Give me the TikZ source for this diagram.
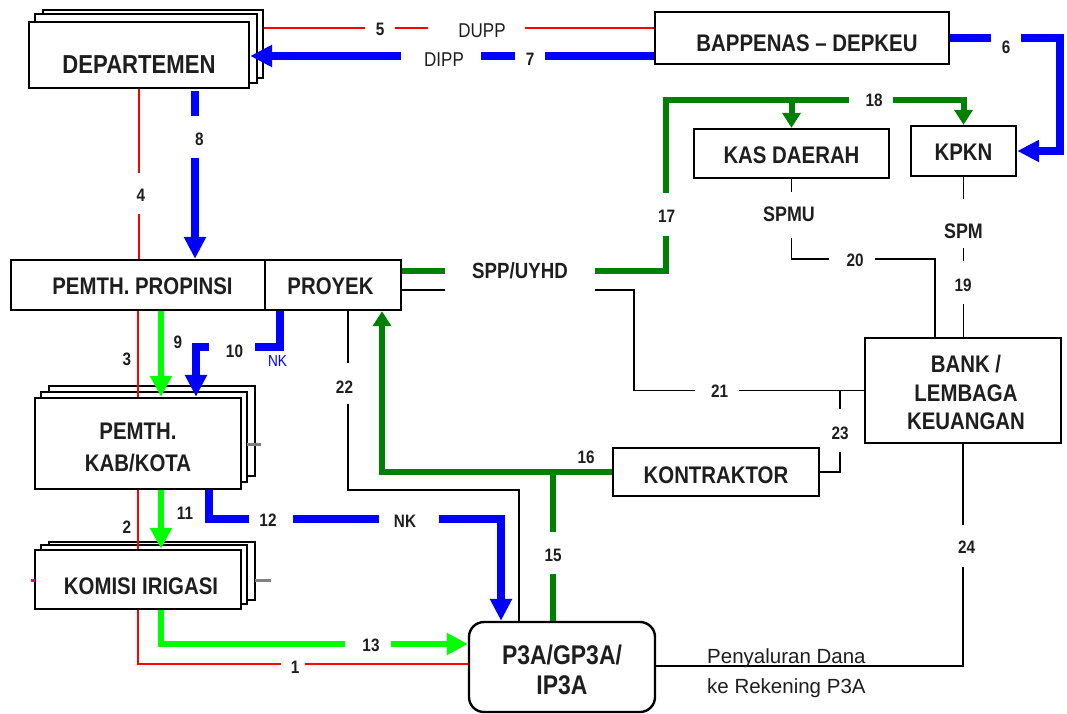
\documentclass[tikz,border=0pt]{standalone}
\usepackage{fontspec}
\setmainfont{Liberation Sans}[FakeStretch=0.85]
\newfontfamily\wide{Liberation Sans}
\usetikzlibrary{arrows.meta,calc}
\definecolor{lim}{RGB}{0,255,0}
\definecolor{dgr}{RGB}{0,128,0}
\definecolor{txtc}{RGB}{30,30,30}
\newcommand\twol[1]{\begin{tabular}{@{}c@{}}#1\end{tabular}}
\newcommand\dn[2]{\raisebox{0pt}[\dimexpr\height+#1pt+#1pt\relax][\depth]{#2}}
\newcommand\gp[4]{\fill[white] (#1,#2) rectangle (#3,#4);}
\begin{document}
\begin{tikzpicture}[x=1pt,y=-1pt,
  box/.style={draw, line width=2.4pt, fill=white, inner sep=0pt, text=txtc,
    font=\bfseries\fontsize{24}{32}\selectfont},
  back/.style={draw, line width=2.4pt, fill=white, inner sep=0pt},
  redl/.style={draw=red, line width=1.8pt},
  blkl/.style={draw=black, line width=1.8pt},
  bluel/.style={draw=blue, line width=7.5pt},
  liml/.style={draw=lim, line width=6pt},
  dgl/.style={draw=dgr, line width=6pt},
  btip/.style={-{Triangle[length=22pt,width=21pt]}},
  ltip/.style={-{Triangle[length=21pt,width=21pt]}},
  gtip/.style={-{Triangle[length=15pt,width=18pt]}},
  num/.style={inner sep=0pt, text=txtc, font=\bfseries\fontsize{18}{20}\selectfont},
  lbl/.style={inner sep=0pt, text=txtc, font=\bfseries\fontsize{22}{24}\selectfont},
  reg/.style={inner sep=0pt, text=txtc, font=\fontsize{20}{22}\selectfont},
]
\fill[white] (0,0) rectangle (1067,713);
\useasboundingbox (0,0) rectangle (1067,713);

% ---------- stacked back boxes ----------
\node[back, minimum width=220pt, minimum height=68pt] (depC) at (153,44) {};
\node[back, minimum width=222pt, minimum height=69pt] (depB) at (146,48.5) {};
\node[back, minimum width=206pt, minimum height=90pt] (kabC) at (152,431) {};
\node[back, minimum width=206pt, minimum height=90pt] (kabB) at (144,437) {};
\node[back, minimum width=206pt, minimum height=58pt] (komC) at (152,571) {};
\node[back, minimum width=206pt, minimum height=59pt] (komB) at (144,574.5) {};

% ---------- main boxes ----------
\node[box, minimum width=220pt, minimum height=66pt, font=\bfseries\fontsize{26}{30}\selectfont] (dep) at (139,55) {\dn{10}{DEPARTEMEN}};
\node[box, minimum width=294pt, minimum height=52pt] (bap) at (802,38) {\dn{5}{\hspace*{10pt}BAPPENAS -- DEPKEU}};
\node[box, minimum width=195pt, minimum height=49pt] (kas) at (791.5,153.5) {\dn{2}{KAS DAERAH}};
\node[box, minimum width=105pt, minimum height=50pt] (kpkn) at (963.5,151) {\dn{1}{KPKN}};
\node[box, minimum width=254pt, minimum height=50pt] (prop) at (138,285) {\dn{1.5}{\hspace*{9pt}PEMTH. PROPINSI}};
\node[box, minimum width=136pt, minimum height=50pt] (proy) at (333,285) {\dn{1.5}{\hspace*{-5pt}PROYEK}};
\node[box, minimum width=206pt, minimum height=91pt] (kab) at (138,443.5) {\dn{6}{\twol{PEMTH.\\KAB/KOTA}}};
\node[box, minimum width=206pt, minimum height=59pt] (kom) at (138,579.5) {\dn{6.5}{\hspace*{6pt}KOMISI IRIGASI}};
\node[box, rounded corners=15pt, minimum width=186pt, minimum height=90pt, font=\bfseries\fontsize{27}{30}\selectfont] (p3a) at (562,667) {\dn{6}{\twol{P3A/GP3A/\\IP3A}}};
\node[box, minimum width=206pt, minimum height=48pt] (kon) at (716,472) {\dn{3}{KONTRAKTOR}};
\node[box, minimum width=196pt, minimum height=105pt, font=\bfseries\fontsize{24}{28.5}\selectfont] (bank) at (963,390.5) {\dn{5}{\hspace*{6pt}\twol{BANK /\\LEMBAGA\\KEUANGAN}}};

% ---------- connectors ----------
% red
\draw[redl] (dep.south) -- (dep.south |- prop.north);
\draw[redl] (prop.south) -- (kab.north);
\draw[redl] (kab.south) -- (kom.north);
\draw[redl] (kom.south) |- ($(p3a.west)+(0,-3)$);
\coordinate (r5) at ($(bap.west)+(0,-10)$);
\draw[redl] (r5) -- (r5 -| depC.east);
% blue
\draw[bluel,btip] (bap.east) -- ++(110,0) |- (kpkn.east);
\coordinate (b7) at ($(bap.west)+(0,18)$);
\draw[bluel,btip] (b7) -- (b7 -| dep.east);
\coordinate (b8) at ($(dep.south)+(56,2)$);
\draw[bluel,btip] (b8) -- (b8 |- prop.north);
\coordinate (b10) at ($(proy.south)+(-53,0)$);
\draw[bluel,btip] (b10) -- ++(0,36) -| ($(kab.north)+(58,0)$);
\coordinate (b12) at ($(kab.south)+(71,0)$);
\draw[bluel,btip] (b12) -- ++(0,29) -| ($(p3a.north)+(-61,0)$);
% lime
\coordinate (g9) at ($(prop.south)+(23,0)$);
\draw[liml,ltip] (g9) -- (g9 |- kab.north);
\coordinate (g11) at ($(kab.south)+(23,0)$);
\draw[liml,ltip] (g11) -- (g11 |- kom.north);
\coordinate (g13) at ($(kom.south)+(23,0)$);
\draw[liml,ltip] (g13) |- ($(p3a.west)+(0,-23)$);
% dark green
\coordinate (g15) at ($(p3a.north)+(-9,0)$);
\draw[dgl] (g15) -- (g15 |- kon.west);
\draw[dgl,gtip] (kon.west) -| ($(proy.south)+(49,0)$);
\coordinate (g17) at ($(proy.east)+(0,-14)$);
\coordinate (c18) at (666,100);
\draw[dgl,gtip] (g17) -| (c18) -| (kpkn.north);
\draw[dgl,gtip] (kas.north |- c18) -- (kas.north);
% black
\draw[blkl] (kpkn.south) -- (kpkn.south |- bank.north);
\draw[blkl] (kas.south) -- ++(0,80) -| ($(bank.north)+(-28,0)$);
\coordinate (k21) at ($(proy.east)+(0,5)$);
\draw[blkl] (k21) -- ++(232,0) |- (bank.west);
\coordinate (k22) at ($(proy.south)+(15,0)$);
\draw[blkl] (k22) -- ++(0,179) -| ($(p3a.north)+(-43,0)$);
\draw[blkl] (kon.east) -| ($(bank.west)+(-24,0)$);
\draw[blkl] (bank.south) |- ($(p3a.east)+(0,-1)$);
% small stubs
\draw[gray, line width=3pt] (247,444) -- (261,444);
\draw[gray, line width=3pt] (255,580) -- (271,580);
\draw[magenta, line width=3pt] (31,580) -- (35,580);

% ---------- gaps in the lines ----------
\gp{133}{173}{145}{214}
\gp{365}{22}{395}{34}
\gp{428}{22}{525}{34}
\gp{401}{50}{481}{63}
\gp{515}{50}{545}{63}
\gp{991}{32}{1021}{45}
\gp{189}{116}{201}{158}
\gp{209}{340}{255}{353}
\gp{249}{511}{293}{525}
\gp{379}{511}{439}{525}
\gp{345}{638}{391}{651}
\gp{281}{660}{305}{668}
\gp{547}{532}{559}{574}
\gp{445}{264}{595}{296}
\gp{660}{193}{672}{236}
\gp{849}{94}{893}{106}
\gp{787}{192}{799}{238}
\gp{829}{252}{875}{264}
\gp{957}{199}{969}{248}
\gp{957}{261}{969}{304}
\gp{695}{384}{739}{397}
\gp{835}{409}{847}{452}
\gp{342}{363}{354}{404}
\gp{957}{525}{969}{567}

% ---------- labels ----------
\node[num] (n1) at (295,667) {1};
\node[num] (n2) at (127,527) {2};
\node[num] (n3) at (127,359) {3};
\node[num] (n4) at (141,195) {4};
\node[num] (n5) at (380,29.5) {5};
\node[reg] (ldupp) at (482,30.5) {DUPP};
\node[num] (n6) at (1006,47) {6};
\node[reg] (ldipp) at (444,60) {DIPP};
\node[num] (n7) at (530,59) {7};
\node[num] (n8) at (199.5,139) {8};
\node[num] (n9) at (178,342) {9};
\node[num] (n10) at (234.5,351) {10};
\node[reg, text=blue, font=\fontsize{16}{18}\selectfont] (lnk1) at (277.5,361) {NK};
\node[num] (n11) at (185,513) {11};
\node[num] (n12) at (268,520) {12};
\node[num] (lnk2) at (405,521) {NK};
\node[num] (n13) at (371,645) {13};
\node[num] (n15) at (553,555) {15};
\node[num] (n16) at (586,457) {16};
\node[lbl] (lspp) at (520,271) {SPP/UYHD};
\node[num] (n17) at (666.5,216.5) {17};
\node[num] (n18) at (874,100) {18};
\node[lbl, font=\bfseries\fontsize{21}{23}\selectfont] (lspmu) at (789,214) {SPMU};
\node[num] (n20) at (855,260) {20};
\node[lbl, font=\bfseries\fontsize{21}{23}\selectfont] (lspm) at (963.5,231) {SPM};
\node[num] (n19) at (963,285) {19};
\node[num] (n21) at (719.5,391) {21};
\node[num] (n22) at (344.5,387) {22};
\node[num] (n23) at (840,433) {23};
\node[num] (n24) at (966.5,547) {24};
\node[reg, anchor=base west, font=\wide\fontsize{20.5}{24}\selectfont] (lpd) at (707,663) {Penyaluran Dana};
\node[reg, anchor=base west, font=\wide\fontsize{20.5}{24}\selectfont] (lpk) at (707,693) {ke Rekening P3A};
\end{tikzpicture}
\end{document}
